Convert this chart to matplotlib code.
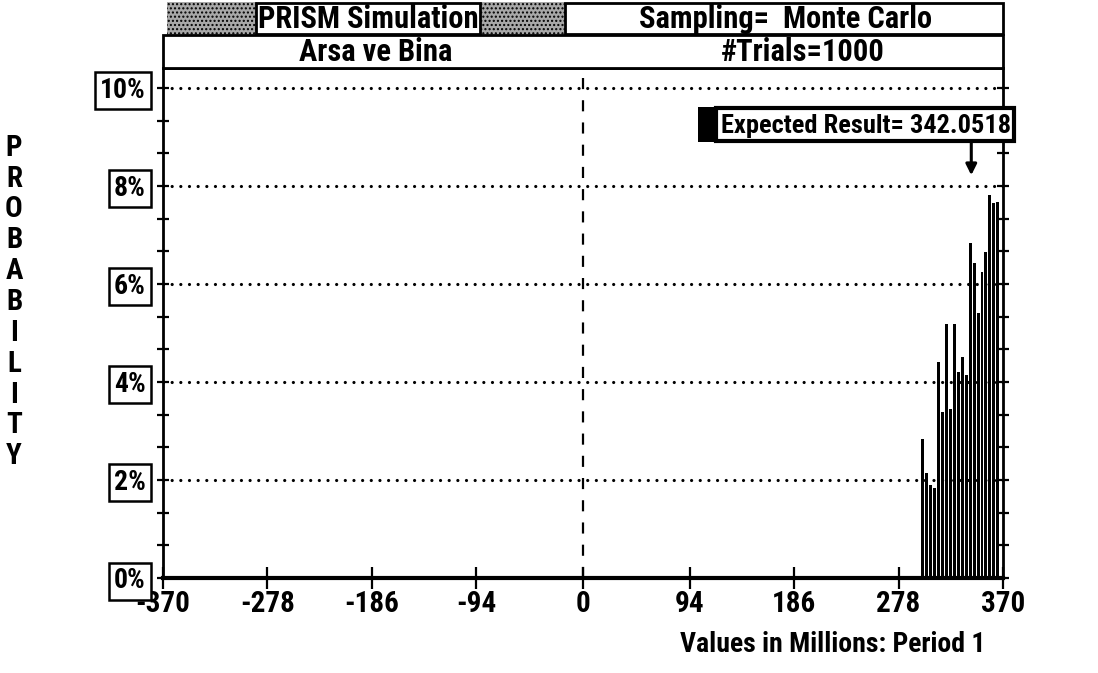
import matplotlib
matplotlib.use("Agg")
import matplotlib.pyplot as plt
import numpy as np
from matplotlib import font_manager
from matplotlib.patches import Rectangle

# ---- data -------------------------------------------------------------
bin_centers = [299.0, 302.5, 306.0, 309.5, 313.0, 316.5, 320.0, 323.5, 327.0, 330.5,
               334.0, 337.5, 341.0, 344.5, 348.0, 351.5, 355.0, 358.5, 362.0, 365.5]
probabilities = [2.84, 2.14, 1.90, 1.84, 4.41, 3.39, 5.18, 3.45, 5.18, 4.20,
                 4.50, 4.15, 6.84, 6.43, 5.40, 6.24, 6.65, 7.82, 7.65, 7.67]
expected_result = 342.0518
x_tick_values = [-370, -278, -186, -94, 0, 94, 186, 278, 370]
x_tick_labels = ["-370", "-278", "-186", "-94", "0", "94", "186", "278", "370"]
y_tick_values = [0, 2, 4, 6, 8, 10]
y_tick_labels = ["0%", "2%", "4%", "6%", "8%", "10%"]
title_left = "PRISM Simulation"
title_right = "Sampling=  Monte Carlo"
subtitle_left = "Arsa ve Bina"
subtitle_right = "#Trials=1000"
x_label = "Values in Millions: Period 1"
y_label = "PROBABILITY"

# ---- font: prefer a narrow face --------------------------------------
available = {f.name for f in font_manager.fontManager.ttflist}
family = "DejaVu Sans"
for cand in ["Roboto Condensed", "Liberation Sans Narrow", "Open Sans Condensed", "DejaVu Sans"]:
    if cand in available:
        family = cand
        break
plt.rcParams["font.family"] = [family, "DejaVu Sans"]
plt.rcParams["font.weight"] = "bold"
plt.rcParams["font.stretch"] = "condensed"

W, H = 1098, 673
fig = plt.figure(figsize=(W / 100, H / 100), dpi=100)
fig.patch.set_facecolor("white")

# main plotting area
ax = fig.add_axes([163 / W, 1 - 578 / H, (1003 - 163) / W, (578 - 68) / H])
ax.set_xlim(-370, 370)
ax.set_ylim(0, 10.408)

for v in y_tick_values[1:]:
    ax.axhline(v, color="black", lw=2.3, ls=(0, (0.01, 2.7)),
               dash_capstyle="round", zorder=1)
ax.axvline(0, color="black", lw=1.6, ls=(0, (5, 5)), zorder=1)

ax.bar(bin_centers, probabilities, width=2.6, color="black", linewidth=0, zorder=2)

ax.annotate("", xy=(expected_result, 8.22), xytext=(expected_result, 8.9),
            arrowprops=dict(arrowstyle="-|>", color="black", lw=2.2,
                            mutation_scale=16, shrinkA=0, shrinkB=0),
            annotation_clip=False, zorder=6)

ax.set_xticks(x_tick_values)
ax.set_xticklabels(x_tick_labels)
ax.set_yticks(y_tick_values)
ax.set_yticklabels(y_tick_labels)
ax.set_yticks(np.arange(0, 10.01, 2 / 3), minor=True)
ax.tick_params(axis="x", direction="inout", length=16, width=1.6, labelsize=21, pad=1)
ax.tick_params(axis="y", which="both", direction="inout", length=9, width=1.6,
               left=True, right=True, labelsize=20, pad=8)
for lbl in ax.get_yticklabels():
    lbl.set_bbox(dict(boxstyle="square,pad=0.18", fc="white", ec="black", lw=1.8))

for side, lw in [("left", 2.0), ("right", 2.0), ("bottom", 3.0), ("top", 2.0)]:
    ax.spines[side].set_linewidth(lw)

# overlay in pixel coordinates for the header, boxes and labels
ov = fig.add_axes([0, 0, 1, 1], zorder=5)
ov.set_xlim(0, W)
ov.set_ylim(H, 0)
ov.axis("off")
ov.patch.set_alpha(0)

stipple = dict(fc="#a8a8a8", ec="black", lw=0, hatch="....")
ov.add_patch(Rectangle((167, 2), 90, 33, **stipple))
ov.add_patch(Rectangle((480, 2), 85, 33, **stipple))
ov.add_patch(Rectangle((256, 3), 224, 31, fc="white", ec="black", lw=2))
ov.add_patch(Rectangle((565, 3), 438, 31, fc="white", ec="black", lw=2))
ov.add_patch(Rectangle((163, 35), 840, 33, fc="white", ec="black", lw=2))

hdr = dict(ha="center", va="center", fontsize=22)
ov.text(368, 19, title_left, **hdr)
ov.text(786, 19, title_right, **hdr)
ov.text(376, 52, subtitle_left, **hdr)
ov.text(803, 52, subtitle_right, **hdr)

# expected result callout
ov.add_patch(Rectangle((698, 107), 20, 35, fc="black", ec="black", lw=0))
ov.add_patch(Rectangle((716, 108), 298, 33, fc="white", ec="black", lw=3))
ov.text(866, 126, f"Expected Result= {expected_result:.4f}", ha="center", va="center",
        fontsize=19)

ov.text(985, 644, x_label, ha="right", va="center", fontsize=20)
ov.text(14, 302, "\n".join(y_label), ha="center", va="center", fontsize=21,
        linespacing=1.13)

fig.savefig("out.png", dpi=100, facecolor="white")
